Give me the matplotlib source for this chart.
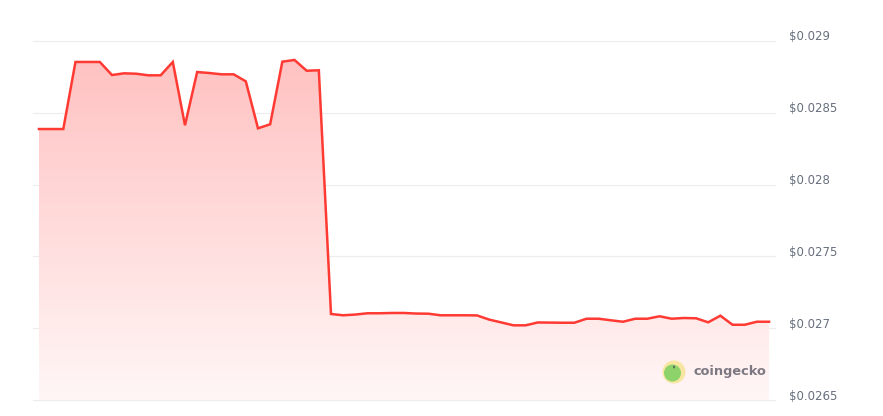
# Price chart in the CoinGecko style: red line, fading red fill, labels on the right
import numpy as np
import matplotlib.pyplot as plt
from matplotlib.patches import Polygon, Circle, Ellipse

# DATA
prices = [
    0.028387, 0.028387, 0.028387, 0.028854, 0.028854, 0.028854, 0.028763,
    0.028775, 0.028772, 0.028761, 0.028761, 0.028854, 0.028413, 0.028784,
    0.028777, 0.028768, 0.028768, 0.028719, 0.028392, 0.028420, 0.028856,
    0.028868, 0.028793, 0.028796, 0.027099, 0.027090, 0.027095, 0.027104,
    0.027104, 0.027106, 0.027106, 0.027102, 0.027101, 0.027090, 0.027090,
    0.027090, 0.027089, 0.027060, 0.027040, 0.027020, 0.027020, 0.027040,
    0.027039, 0.027038, 0.027038, 0.027066, 0.027066, 0.027055, 0.027045,
    0.027066, 0.027066, 0.027083, 0.027066, 0.027071, 0.027069, 0.027041,
    0.027087, 0.027024, 0.027024, 0.027045, 0.027045,
]
y_ticks = [0.0265, 0.027, 0.0275, 0.028, 0.0285, 0.029]
y_labels = ["$0.0265", "$0.027", "$0.0275", "$0.028", "$0.0285", "$0.029"]

W, H = 883, 416
fig = plt.figure(figsize=(W / 100, H / 100), dpi=100)
fig.patch.set_facecolor("white")
ax = fig.add_axes([33 / W, (H - 400) / H, (775 - 33) / W, (400 - 41) / H])

x = np.arange(len(prices))
ymin, ymax = 0.0265, 0.029
ax.set_xlim(-0.49, len(prices) - 1 + 0.49)
ax.set_ylim(ymin, ymax)

# gridlines
for t in y_ticks:
    ax.axhline(t, color="#ececec", lw=0.8, zorder=0, clip_on=False)

# gradient fill under the line
grad = np.linspace(0, 1, 256).reshape(-1, 1)
top = np.array([1.0, 0.76, 0.76])
bot = np.array([1.0, 0.965, 0.965])
img = top * (1 - grad) + bot * grad
im = ax.imshow(img[:, None, :].repeat(2, axis=1), aspect="auto",
               extent=[x[0], x[-1], ymin, max(prices)], origin="upper", zorder=1)
verts = [(x[0], ymin)] + list(zip(x, prices)) + [(x[-1], ymin)]
poly = Polygon(verts, closed=True, facecolor="none", edgecolor="none")
ax.add_patch(poly)
im.set_clip_path(poly)

ax.plot(x, prices, color="#ff3a33", lw=1.8, zorder=3, solid_joinstyle="miter")

for s in ax.spines.values():
    s.set_visible(False)
ax.set_xticks([])
ax.set_yticks([])

# price labels on the right
for t, lab in zip(y_ticks, y_labels):
    py = 41 + (ymax - t) / (ymax - ymin) * 359
    fig.text(789 / W, 1 - (py - 4) / H, lab, fontsize=8.5, color="#68707f",
             ha="left", va="center")

# coingecko watermark
fig.patches.append(Circle((674, H - 372), 11.5, transform=None,
                          facecolor="#f8e6a0", edgecolor="none", zorder=5))
fig.patches.append(Circle((672.5, H - 373), 8.5, transform=None,
                          facecolor="#8dd36a", edgecolor="none", zorder=6))
fig.patches.append(Ellipse((674, H - 367), 2, 3, transform=None,
                           facecolor="#5a6a5a", edgecolor="none", zorder=7))
fig.text(693 / W, 1 - 371 / H, "coingecko", fontsize=9.3, fontweight="bold",
         color="#7c7882", ha="left", va="center")

fig.savefig("out.png", dpi=100)
